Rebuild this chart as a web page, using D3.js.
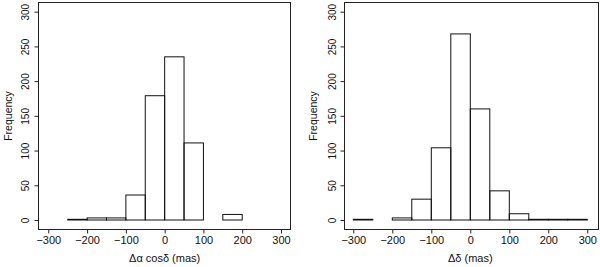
<!DOCTYPE html>
<meta charset="utf-8">
<style>
  body { margin: 0; background: #fff; }
  svg text { font-family: "Liberation Sans", Arial, sans-serif; fill: #111; }
  .bar { fill: none; stroke: #111; stroke-width: 1; }
  .frame { fill: none; stroke: #222; stroke-width: 1; }
  .tick line { stroke: #222; }
</style>
<svg width="600" height="267"></svg>
<script src="https://d3js.org/d3.v7.min.js"></script>
<script>

  // bin edges in mas, width 50
  var binEdges = [-300, -250, -200, -150, -100, -50, 0, 50, 100, 150, 200, 250, 300];

  // counts per bin
  var countsRA  = [0, 1, 3, 3, 36, 179, 235, 111, 0, 8, 0, 0];
  var countsDec = [1, 0, 3, 30, 104, 268, 160, 42, 9, 1, 1, 1];

  var xTicks = [-300, -200, -100, 0, 100, 200, 300];
  var yTicks = [0, 50, 100, 150, 200, 250, 300];

  var svg = d3.select("svg");

  var panels = [
    { counts: countsRA, label: "\u0394\u03b1 cos\u03b4 (mas)",
      box: [38, 2, 290, 229], xr: [48.3, 281], yLabX: 25, titleX: 9 },
    { counts: countsDec, label: "\u0394\u03b4 (mas)",
      box: [344, 2, 598, 229], xr: [353.3, 587.3], yLabX: 332, titleX: 314 }
  ];

  panels.forEach(function(p) {
    var x = d3.scaleLinear().domain([-300, 300]).range(p.xr);
    var y = d3.scaleLinear().domain([0, 300]).range([220, 11.7]);
    var b = p.box;

    var g = svg.append("g");

    // frame
    g.append("rect").attr("class", "frame")
      .attr("x", b[0] + 0.5).attr("y", b[1] + 0.5)
      .attr("width", b[2] - b[0]).attr("height", b[3] - b[1]);

    // histogram bars
    var bins = p.counts.map(function(c, i) {
      return { x0: binEdges[i], x1: binEdges[i + 1], n: c };
    });
    g.selectAll("rect.bar").data(bins).enter().append("rect")
      .attr("class", "bar")
      .attr("x", function(d) { return x(d.x0); })
      .attr("y", function(d) { return y(d.n); })
      .attr("width", function(d) { return x(d.x1) - x(d.x0); })
      .attr("height", function(d) { return y(0) - y(d.n); });

    // x axis
    var xa = g.append("g").attr("transform", "translate(0," + (b[3] + 0.5) + ")")
      .call(d3.axisBottom(x).tickValues(xTicks).tickSize(4).tickPadding(3)
        .tickFormat(function(d) { return d < 0 ? "\u2212" + (-d) : d; }));
    xa.select(".domain").remove();
    xa.selectAll("text").style("font-size", "11px");

    // y axis
    var ya = g.append("g").attr("transform", "translate(" + (b[0] + 0.5) + ",0)")
      .call(d3.axisLeft(y).tickValues(yTicks).tickSize(4).tickFormat(d3.format("d")));
    ya.select(".domain").remove();
    ya.selectAll("text")
      .attr("x", 0).attr("dy", null)
      .attr("text-anchor", "middle")
      .attr("transform", function(d) {
        return "translate(" + (p.yLabX - b[0] + 3) + ",0) rotate(-90)";
      })
      .style("font-size", "10px");

    // axis titles
    g.append("text")
      .attr("x", (p.xr[0] + p.xr[1]) / 2).attr("y", 262)
      .attr("text-anchor", "middle").style("font-size", "11px")
      .text(p.label);

    g.append("text")
      .attr("transform", "translate(" + (p.titleX + 3) + ",116) rotate(-90)")
      .attr("text-anchor", "middle").style("font-size", "10.5px")
      .text("Frequency");
  });

</script>
